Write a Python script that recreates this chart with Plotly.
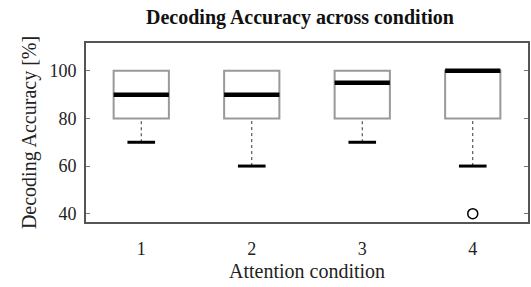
import plotly.graph_objects as go

conditions = [1, 2, 3, 4]
q1 = [80, 80, 80, 80]
median = [90, 90, 95, 100]
q3 = [100, 100, 100, 100]
lower_whisker = [70, 60, 70, 60]
outlier_x = [4]
outlier_y = [40]
y_ticks = [40, 60, 80, 100]

BOX_W = 0.5
CAP_W = 0.25
font_family = "Liberation Serif"

fig = go.Figure()

# boxes
fig.add_trace(go.Box(
    x=conditions, q1=q1, median=median, q3=q3,
    lowerfence=q1, upperfence=q3,
    width=BOX_W, fillcolor="white",
    line=dict(color="#999999", width=2),
    boxpoints=False, showlegend=False, hoverinfo="skip",
))

# whiskers (dotted)
wx, wy = [], []
for c, lw, a in zip(conditions, lower_whisker, q1):
    wx += [c, c, None]
    wy += [lw, a, None]
fig.add_trace(go.Scatter(x=wx, y=wy, mode="lines",
                         line=dict(color="#333333", width=1, dash="dot"),
                         showlegend=False, hoverinfo="skip"))

# caps
cx, cy = [], []
for c, lw in zip(conditions, lower_whisker):
    cx += [c - CAP_W / 2, c + CAP_W / 2, None]
    cy += [lw, lw, None]
fig.add_trace(go.Scatter(x=cx, y=cy, mode="lines",
                         line=dict(color="black", width=3),
                         showlegend=False, hoverinfo="skip"))

# medians
mx, my = [], []
for c, m in zip(conditions, median):
    mx += [c - BOX_W / 2, c + BOX_W / 2, None]
    my += [m, m, None]
fig.add_trace(go.Scatter(x=mx, y=my, mode="lines",
                         line=dict(color="black", width=4.5),
                         showlegend=False, hoverinfo="skip"))

# outliers
fig.add_trace(go.Scatter(x=outlier_x, y=outlier_y, mode="markers",
                         marker=dict(symbol="circle-open", size=10,
                                     color="black", line=dict(width=1.5)),
                         showlegend=False, hoverinfo="skip"))

fig.update_layout(
    width=531, height=287,
    margin=dict(l=86, r=3, t=43, b=65),
    paper_bgcolor="white", plot_bgcolor="white",
    font=dict(family=font_family, size=17, color="#222222"),
    title=dict(text="<b>Decoding Accuracy across condition</b>",
               x=300 / 531, xref="container", xanchor="center",
               y=1 - 17 / 287, yref="container", yanchor="middle",
               font=dict(size=20, color="#111111")),
)
fig.update_xaxes(
    range=[0.5, 4.5], tickmode="array", tickvals=conditions,
    ticktext=[str(c) for c in conditions],
    tickfont=dict(family=font_family, size=18),
    ticklabelstandoff=9,
    showgrid=False, zeroline=False, automargin=False,
    showline=True, linecolor="#555555", linewidth=2, mirror=True,
    ticks="", title=dict(text="Attention condition", standoff=6),
)
fig.update_yaxes(
    range=[36.5, 111.7], tickmode="array", tickvals=y_ticks,
    tickfont=dict(family=font_family, size=18),
    ticklabelstandoff=4,
    showgrid=False, zeroline=False, automargin=False,
    showline=True, linecolor="#555555", linewidth=2, mirror="allticks",
    ticks="inside", ticklen=4, tickcolor="#777777",
    title=dict(text="Decoding Accuracy [%]", standoff=7),
)

fig.write_html(
    "out.html",
    config={"displayModeBar": False},
    post_script="document.body.style.margin='0';document.body.style.overflow='hidden';",
)
